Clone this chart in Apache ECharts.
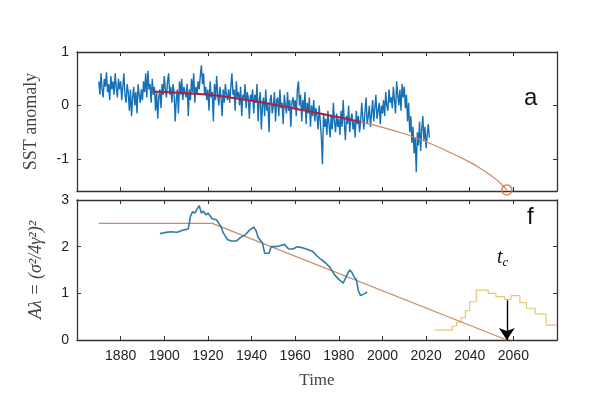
<!DOCTYPE html>
<html>
<head>
<meta charset="utf-8">
<script src="https://cdn.jsdelivr.net/npm/echarts@6/dist/echarts.min.js"></script>
<style>
  body { margin: 0; background: #fff; }
  #main { width: 600px; height: 400px; }
</style>
</head>
<body>
<div id="main"></div>
<script>
/* SST anomaly, two samples per year from 1870 */
var sstStart = 1870, sstStep = 0.5;
var sstValues = [
  0.45,0.2,0.6,0.3,0.15,0.5,0.35,0.62,0.25,0.4,0.1,0.55,0.3,0.45,0.2,0.6,0.35,0.15,0.5,0.3,
  0.45,0.1,0.35,0.6,0.2,0.05,0.4,0.25,-0.1,0.3,-0.2,0.15,0.35,0.0,0.25,-0.15,0.4,0.2,0.05,0.3,
  0.1,0.45,0.25,0.6,0.15,0.65,0.3,0.4,0.05,0.5,0.2,0.35,-0.1,0.25,-0.25,0.15,0.3,-0.05,0.4,0.2,
  0.55,0.3,0.15,0.45,0.6,0.2,0.35,0.05,0.4,0.25,-0.3,0.1,0.3,-0.15,0.45,0.2,0.5,0.1,0.35,0.25,
  0.15,0.4,-0.2,0.3,0.1,0.5,0.25,0.6,0.05,0.35,0.2,0.45,0.3,0.55,0.75,0.4,0.6,0.2,0.35,0.1,
  0.3,-0.1,0.45,0.15,0.25,-0.3,0.4,0.1,0.55,0.2,0.0,0.35,0.15,-0.2,0.3,0.05,0.4,0.2,0.1,0.3,
  0.05,0.35,0.6,0.2,0.3,-0.1,0.45,0.15,0.25,0.0,0.35,-0.2,0.2,0.1,0.4,-0.05,0.25,0.15,-0.25,0.2,
  0.1,0.3,-0.15,0.2,0.05,0.4,-0.3,0.1,0.25,-0.45,0.0,0.15,-0.2,0.3,-0.1,0.05,-0.5,0.1,0.2,-0.15,
  0.0,0.25,-0.3,0.1,0.15,-0.2,0.3,-0.05,0.05,-0.35,0.2,0.0,-0.15,0.25,-0.1,0.1,-0.4,0.05,0.15,-0.05,
  0.1,-0.2,0.3,0.45,0.0,0.2,-0.3,0.1,-0.1,0.25,-0.35,0.05,-0.15,0.15,-0.4,0.0,-0.2,0.1,-0.3,-0.05,
  -0.2,-0.45,0.0,-0.3,-0.6,-1.1,-0.15,-0.4,-0.25,-0.55,-0.1,-0.35,-0.6,-0.2,-0.45,0.05,-0.3,-0.5,-0.15,-0.4,
  -0.25,-0.55,-0.1,-0.4,0.1,-0.3,-0.65,-0.2,-0.35,0.0,-0.5,-0.25,-0.15,-0.45,-0.3,-0.6,-0.1,-0.35,-0.2,-0.5,
  -0.3,0.05,-0.25,-0.45,-0.1,0.15,-0.35,-0.2,0.0,-0.4,-0.15,0.1,-0.3,-0.05,0.2,-0.25,-0.1,0.05,-0.35,0.0,
  -0.15,0.1,-0.2,0.25,0.0,-0.1,0.3,0.05,0.15,-0.05,0.35,0.1,-0.15,0.45,0.2,0.0,0.3,-0.1,0.4,0.15,
  0.35,-0.05,0.2,-0.3,0.05,-0.5,-0.2,-0.7,-0.4,-0.9,-0.6,-1.25,-0.5,-0.75,-0.3,-0.85,-0.45,-0.2,-0.65,-0.4,-0.8,-0.55,-0.35,-0.6
];

/* fitted curve to tipping point */
var fitYears  = [1895,1900,1910,1920,1930,1940,1950,1960,1970,1980,1990,2000,2010,2020,2030,2040,2045,2050,2054,2057];
var fitValues = [0.26,0.25,0.23,0.2,0.15,0.09,0.02,-0.06,-0.14,-0.22,-0.31,-0.41,-0.53,-0.68,-0.86,-1.06,-1.18,-1.32,-1.45,-1.58];
var fitObservedEnd = 1990;
var tippingPoint = [2057, -1.58];

/* A*lambda estimate */
var aYears  = [1898,1900,1903,1906,1909,1911,1912,1913,1914,1915,1916,1917,1918,1919,1920,1922,1924,1925,1926,1927,1929,1931,1933,1935,1937,1939,1941,1942,1943,1945,1946,1948,1949,1951,1953,1955,1957,1959,1961,1963,1965,1968,1970,1972,1974,1976,1978,1980,1982,1984,1985,1986,1987,1988,1989,1990,1992,1993];
var aValues = [2.28,2.3,2.32,2.31,2.36,2.38,2.65,2.75,2.72,2.8,2.88,2.72,2.76,2.68,2.72,2.6,2.57,2.5,2.43,2.3,2.15,2.12,2.12,2.2,2.25,2.35,2.42,2.35,2.2,2.08,1.86,1.86,2.0,2.0,2.02,2.05,1.95,1.95,2.0,1.98,1.95,1.9,1.8,1.72,1.65,1.55,1.4,1.3,1.22,1.42,1.5,1.45,1.35,1.3,1.05,0.95,1.0,1.03];

/* linear fit of A*lambda */
var lineYears  = [1870, 1922, 2057];
var lineValues = [2.5, 2.5, 0];

/* distribution of tipping time (step histogram) */
var histEdges  = [2024,2032,2034,2036,2038,2040,2043,2048.5,2052,2056,2059,2063,2066,2070,2075,2080];
var histValues = [0.21,0.3,0.38,0.48,0.63,0.82,1.07,1.0,0.93,0.87,0.95,0.8,0.68,0.56,0.32,0.32];

var tcArrow = { year: 2057, from: 0.85, to: 0 };

var xTicks = { min: 1860, max: 2080, interval: 20 };

var pairs = function (xs, ys) {
    return xs.map(function (x, i) { return [x, ys[i]]; });
};

var chart = echarts.init(document.getElementById('main'));

var sstData = sstValues.map(function (v, i) { return [sstStart + i * sstStep, v]; });
var fitData = pairs(fitYears, fitValues);
var fitObsData = fitData.filter(function (p) { return p[0] <= fitObservedEnd; });

var axisColor = '#333';
var baseX = function (gridIndex, pos, labels) {
    return {
        type: 'value', gridIndex: gridIndex, position: pos,
        min: xTicks.min, max: xTicks.max, interval: xTicks.interval,
        axisLine: { show: true, onZero: false, lineStyle: { color: axisColor, width: 1.3 } },
        axisTick: { show: true, inside: true, length: 4, lineStyle: { color: axisColor } },
        axisLabel: { show: labels, showMinLabel: false, showMaxLabel: false,
                     formatter: function (v) { return String(v); },
                     color: '#222', fontSize: 14, fontFamily: 'Liberation Sans, Arial', margin: 9 },
        splitLine: { show: false }
    };
};
var baseY = function (gridIndex, pos, labels, min, max, ticks) {
    return {
        type: 'value', gridIndex: gridIndex, position: pos,
        min: min, max: max,
        axisLine: { show: true, onZero: false, lineStyle: { color: axisColor, width: 1.3 } },
        axisTick: { show: true, inside: true, length: 4, customValues: ticks, lineStyle: { color: axisColor } },
        axisLabel: { show: labels, customValues: ticks, color: '#222', fontSize: 14,
                     fontFamily: 'Liberation Sans, Arial', margin: 8 },
        splitLine: { show: false }
    };
};

var serifName = function (size, italic) {
    return { fontFamily: 'Liberation Serif, serif', fontStyle: italic ? 'italic' : 'normal', fontSize: size, color: '#444' };
};

var xAxes = [baseX(0, 'bottom', false), baseX(0, 'top', false), baseX(1, 'bottom', true), baseX(1, 'top', false)];
xAxes[2].name = 'Time';
xAxes[2].nameLocation = 'middle';
xAxes[2].nameGap = 32;
xAxes[2].nameTextStyle = serifName(17, false);

var yAxes = [
    baseY(0, 'left', true, -1.6, 1, [-1, 0, 1]),
    baseY(0, 'right', false, -1.6, 1, [-1, 0, 1]),
    baseY(1, 'left', true, 0, 3, [0, 1, 2, 3]),
    baseY(1, 'right', false, 0, 3, [0, 1, 2, 3])
];
yAxes[0].name = 'SST anomaly';
yAxes[0].nameLocation = 'middle';
yAxes[0].nameGap = 37;
yAxes[0].nameTextStyle = serifName(18, false);
yAxes[2].name = 'Aλ = (σ²/4γ²)²';
yAxes[2].nameLocation = 'middle';
yAxes[2].nameGap = 32;
yAxes[2].nameTextStyle = serifName(18, true);

var options = {
    animation: false,
    backgroundColor: '#fff',
    grid: [
        { left: 77, top: 52, width: 480, height: 139 },
        { left: 77, top: 200, width: 480, height: 140 }
    ],
    xAxis: xAxes,
    yAxis: yAxes,
    graphic: [
        { type: 'text', left: 524, top: 86, style: { text: 'a', fontSize: 24, fontFamily: 'Liberation Sans, Arial', fill: '#111' } },
        { type: 'text', left: 527, top: 205, style: { text: 'f', fontSize: 24, fontFamily: 'Liberation Sans, Arial', fill: '#111' } },
        { type: 'text', left: 497, top: 248, style: {
            text: '{t|t}{c|c}',
            rich: {
                t: { fontFamily: 'Liberation Serif, serif', fontStyle: 'italic', fontSize: 20, fill: '#111' },
                c: { fontFamily: 'Liberation Serif, serif', fontStyle: 'italic', fontSize: 13, fill: '#111', padding: [10, 0, 0, 0] }
            }
        } }
    ],
    series: [
        {
            name: 'SST', type: 'line', xAxisIndex: 0, yAxisIndex: 0,
            data: sstData, symbol: 'none',
            lineStyle: { color: '#1670b5', width: 1.4 }, z: 2
        },
        {
            name: 'fit', type: 'line', xAxisIndex: 0, yAxisIndex: 0,
            data: fitData, symbol: 'none', smooth: true,
            lineStyle: { color: '#c98a62', width: 1.2 }, z: 3
        },
        {
            name: 'fitObs', type: 'line', xAxisIndex: 0, yAxisIndex: 0,
            data: fitObsData, symbol: 'none', smooth: true,
            lineStyle: { color: '#a8203c', width: 2 }, z: 4
        },
        {
            name: 'tip', type: 'scatter', xAxisIndex: 0, yAxisIndex: 0,
            data: [tippingPoint], symbol: 'circle', symbolSize: 10, clip: false,
            itemStyle: { color: 'rgba(0,0,0,0)', borderColor: '#d9682a', borderWidth: 1.6 }, z: 5
        },
        {
            name: 'hist', type: 'line', xAxisIndex: 2, yAxisIndex: 2,
            data: pairs(histEdges, histValues), step: 'end', symbol: 'none',
            lineStyle: { color: '#e3c873', width: 1.2 }, z: 2
        },
        {
            name: 'linefit', type: 'line', xAxisIndex: 2, yAxisIndex: 2,
            data: pairs(lineYears, lineValues), symbol: 'none', clip: false,
            lineStyle: { color: '#c98a68', width: 1.3 }, z: 3,
            markLine: {
                silent: true, symbol: ['none', 'arrow'], symbolSize: 12, precision: 2,
                lineStyle: { color: '#000', width: 1.4, type: 'solid' },
                label: { show: false },
                data: [[
                    { coord: [tcArrow.year, tcArrow.from] },
                    { coord: [tcArrow.year, tcArrow.to] }
                ]]
            }
        },
        {
            name: 'A', type: 'line', xAxisIndex: 2, yAxisIndex: 2,
            data: pairs(aYears, aValues), symbol: 'none',
            lineStyle: { color: '#2f7aa8', width: 1.6 }, z: 4
        }
    ]
};
chart.setOption(options);
</script>
</body>
</html>
